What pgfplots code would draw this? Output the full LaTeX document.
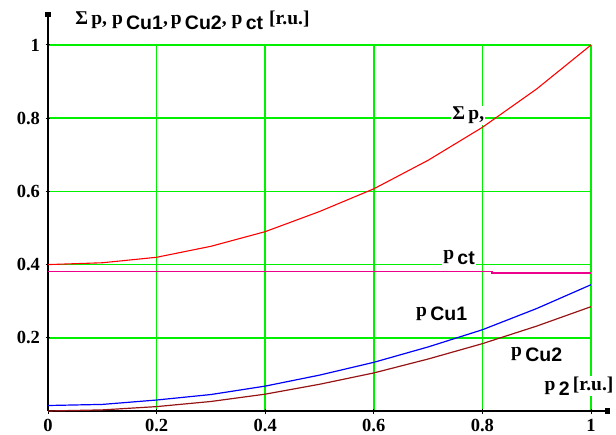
\documentclass[border=0pt]{standalone}
\usepackage{pgfplots}
\pgfplotsset{compat=1.18}
\usepackage{fontspec}
\setmainfont{Liberation Serif}
\newfontfamily\sub{Liberation Sans}
\usetikzlibrary{arrows.meta}
\definecolor{gridgreen}{RGB}{0,240,0}
\definecolor{brn}{RGB}{150,20,20}
\newcommand{\pp}[1]{\textbf{p}\,\raisebox{-0.55ex}{\sub\bfseries #1}}
\begin{document}
\begin{tikzpicture}
\useasboundingbox (0pt,0pt) rectangle (616pt,434pt);
\begin{axis}[
  at={(48pt,23pt)}, anchor=south west,
  scale only axis, width=543pt, height=366pt,
  xmin=0, xmax=1, ymin=0, ymax=1,
  clip=false,
  axis lines=left,
  axis line style={line width=1.8pt, -},
  grid=major,
  major grid style={gridgreen, line width=1.5pt},
  xtick={0,0.2,0.4,0.6,0.8,1},
  xticklabels={\textbf{0},\textbf{0.2},\textbf{0.4},\textbf{0.6},\textbf{0.8},\textbf{1}},
  ytick={0.2,0.4,0.6,0.8,1},
  yticklabels={\textbf{0.2},\textbf{0.4},\textbf{0.6},\textbf{0.8},\textbf{1}},
  tick style={black, line width=1pt},
  major tick length=5pt,
  tick label style={font=\fontsize{18.5}{18.5}\selectfont},
  xticklabel style={yshift=-2pt},
  yticklabel style={xshift=-2pt},
]
\addplot[red, line width=1.1pt] coordinates {
(0,0.400) (0.1,0.405) (0.2,0.420) (0.3,0.450) (0.4,0.490) (0.5,0.545)
(0.6,0.607) (0.7,0.685) (0.8,0.775) (0.9,0.880) (1,1.0)};
\addplot[magenta, line width=1.8pt] coordinates {
(0,0.381) (0.817,0.381) (0.817,0.376) (1,0.376)};
\addplot[blue, line width=1.2pt] coordinates {
(0,0.015) (0.1,0.018) (0.2,0.030) (0.3,0.045) (0.4,0.068) (0.5,0.098)
(0.6,0.133) (0.7,0.175) (0.8,0.222) (0.9,0.280) (1,0.345)};
\addplot[brn, line width=1.2pt] coordinates {
(0,0) (0.1,0.003) (0.2,0.012) (0.3,0.026) (0.4,0.046) (0.5,0.073)
(0.6,0.104) (0.7,0.142) (0.8,0.184) (0.9,0.232) (1,0.285)};
\draw[line width=1.8pt, -{Rectangle[length=5pt,width=6pt]}] (axis cs:0.99,0) -- (axis cs:1.035,0);
\draw[line width=1.8pt, -{Rectangle[length=5pt,width=6pt]}] (axis cs:0,0.99) -- (axis cs:0,1.09);
\node[fill=white, inner sep=1pt, font=\fontsize{19.5}{19.5}\selectfont] at (axis cs:0.774,0.808) {\textbf{Σ\,p,}};
\node[fill=white, inner sep=1pt, font=\fontsize{19.5}{19.5}\selectfont] at (axis cs:0.757,0.42) {\pp{ct}};
\node[fill=white, inner sep=1pt, font=\fontsize{19.5}{19.5}\selectfont] at (axis cs:0.725,0.265) {\pp{Cu1}};
\node[fill=white, inner sep=1pt, font=\fontsize{19.5}{19.5}\selectfont] at (axis cs:0.90,0.155) {\pp{Cu2}};
\node[fill=white, inner sep=1pt, font=\fontsize{19.5}{19.5}\selectfont] at (axis cs:0.978,0.068) {\pp{2}\,\textbf{[r.u.]}};
\node[anchor=base west, inner sep=0pt, font=\fontsize{19.5}{19.5}\selectfont] at (axis cs:0.05,1.055) {\textbf{Σ\,p,}\hspace{5pt}\pp{Cu1}\textbf{,}\hspace{3pt}\pp{Cu2}\textbf{,}\hspace{5pt}\pp{ct}\hspace{6pt}\textbf{[r.u.]}};
\end{axis}
\end{tikzpicture}
\end{document}
